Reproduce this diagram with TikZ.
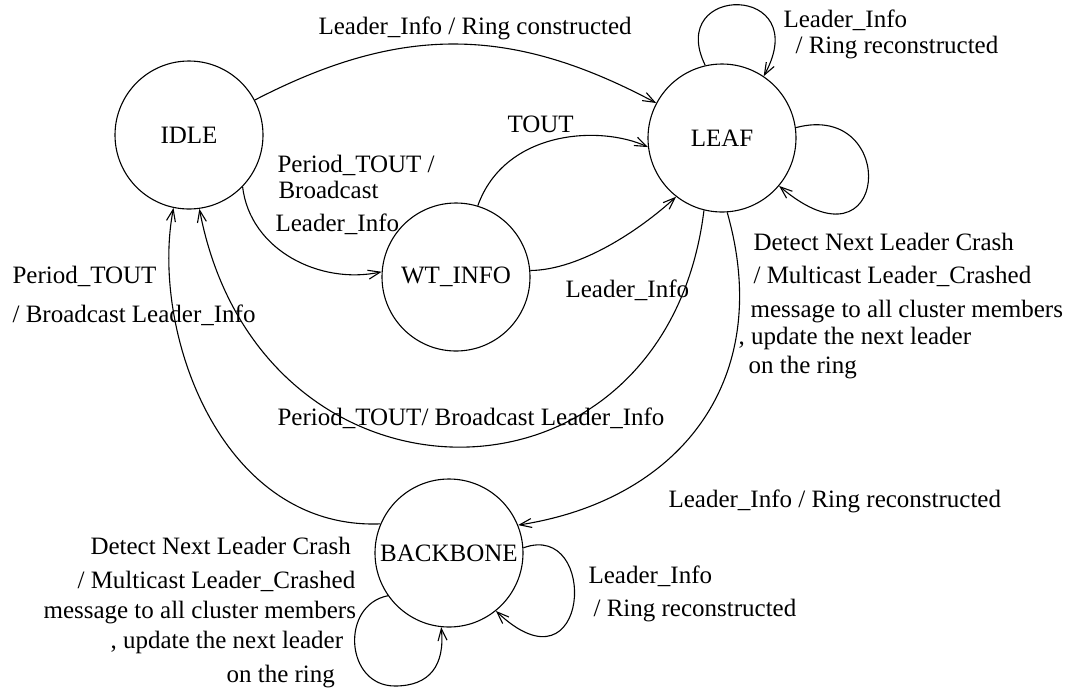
\documentclass[tikz,border=0pt]{standalone}
\usepackage{fontspec}
\setmainfont{Liberation Serif}
\usetikzlibrary{arrows.meta}
\begin{document}
\begin{tikzpicture}[x=0.5pt,y=-0.5pt,
  font=\fontsize{12.5}{15}\selectfont,
  line width=0.55pt,
  state/.style={draw, circle, minimum size=74pt, inner sep=0pt},
  lbl/.style={anchor=base west, inner sep=0pt},
  tr/.style={-{Straight Barb[length=6pt,width=4.5pt,line width=0.55pt]}}]
\useasboundingbox (0,0) rectangle (1073,687);
% states
\node[state] (idle) at (189,135) {IDLE};
\node[state] (leaf) at (722,138) {LEAF};
\node[state] (wt)   at (456,277) {WT\_INFO};
\node[state] (bb)   at (449,553) {BACKBONE};
\coordinate (bbloop) at (395,686);
% transitions
\draw[tr] (idle.28) .. controls (400,25) and (510,25) .. (leaf.152);
\draw[tr] (idle.-44) .. controls (250,250) and (320,285) .. (wt.176);
\draw[tr] (wt.73) .. controls (505,130) and (600,125) .. (leaf.-173);
\draw[tr] (wt.5) .. controls (580,270) and (640,230) .. (leaf.-128);
\draw[tr] (leaf.103) .. controls (665,-17) and (815,-17) .. (leaf.56);
\draw[tr] (leaf.8) .. controls (900,100) and (890,280) .. (leaf.-40);
\draw[tr] (leaf.-104) .. controls (665,526) and (260,526) .. (idle.-82);
\draw[tr] (leaf.-86) .. controls (775,380) and (680,500) .. (bb.22);
\draw[tr] (bb.157) .. controls (220,530) and (150,330) .. (idle.-102);
\draw[tr] (bb.4) .. controls (600,520) and (590,700) .. (bb.-51);
\draw[tr] (bb.-145) .. controls (340,605) and (345,686) .. (bbloop)
          .. controls (430,686) and (445,665) .. (bb.-96);
% labels
\node[lbl] (l1) at (318,34) {Leader\_Info / Ring constructed};
\node[lbl] (l2a) at (783,27) {Leader\_Info};
\node[lbl] (l2b) at (795,53) {/ Ring reconstructed};
\node[lbl] (l3) at (507,132) {TOUT};
\node[lbl] (l4a) at (277,172) {Period\_TOUT /};
\node[lbl] (l4b) at (278,198) {Broadcast};
\node[lbl] (l4c) at (275,231) {Leader\_Info};
\node[lbl] (l5) at (565,297) {Leader\_Info};
\node[lbl] (l6a) at (12,283) {Period\_TOUT};
\node[lbl] (l6b) at (12,322) {/ Broadcast Leader\_Info};
\node[lbl] (l7a) at (753,250) {Detect Next Leader Crash};
\node[lbl] (l7b) at (753,283) {/ Multicast Leader\_Crashed};
\node[lbl] (l7c) at (750,317) {message to all cluster members};
\node[lbl] (l7d) at (738,344) {, update the next leader};
\node[lbl] (l7e) at (748,373) {on the ring};
\node[lbl] (l8) at (277,425) {Period\_TOUT/ Broadcast Leader\_Info};
\node[lbl] (l9) at (668,507) {Leader\_Info / Ring reconstructed};
\node[lbl] (l10a) at (588,583) {Leader\_Info};
\node[lbl] (l10b) at (593,616) {/ Ring reconstructed};
\node[lbl] (l11a) at (90,554) {Detect Next Leader Crash};
\node[lbl] (l11b) at (77,588) {/ Multicast Leader\_Crashed};
\node[lbl] (l11c) at (43,618) {message to all cluster members};
\node[lbl] (l11d) at (110,648) {, update the next leader};
\node[lbl] (l11e) at (226,682) {on the ring};
\end{tikzpicture}
\end{document}
